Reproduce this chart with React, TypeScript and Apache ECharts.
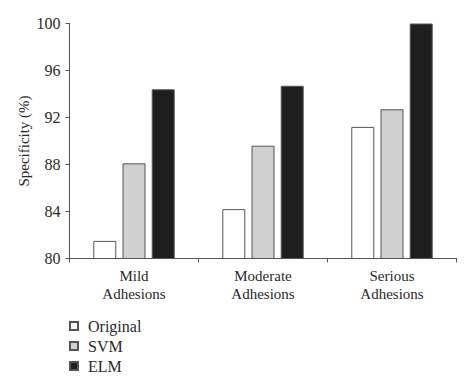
import React, { useEffect, useRef } from "react";
import * as echarts from "echarts";

const categories = ["Mild\nAdhesions", "Moderate\nAdhesions", "Serious\nAdhesions"];
const seriesNames = ["Original", "SVM", "ELM"];
const originalValues = [81.5, 84.2, 91.2];
const svmValues = [88.1, 89.6, 92.7];
const elmValues = [94.4, 94.7, 100];
const yTicks = [80, 84, 88, 92, 96, 100];

const FONT = "'Liberation Serif', 'DejaVu Serif', serif";
const TEXT = "#2a2a2a";
const AXIS = "#555555";

export default function App() {
  const ref = useRef<HTMLDivElement>(null);
  useEffect(() => {
    if (!ref.current) return;
    const chart = echarts.init(ref.current, undefined, { renderer: "svg" });
    const fills = ["#ffffff", "#d0d0d0", "#1e1e1e"];
    const data = [originalValues, svmValues, elmValues];
    chart.setOption({
      animation: false,
      textStyle: { fontFamily: FONT },
      grid: { left: 69.5, right: 17.5, top: 23.5, bottom: 128.5 },
      legend: {
        orient: "vertical",
        left: 64,
        top: 311,
        itemWidth: 8,
        itemHeight: 8,
        itemGap: 0,
        icon: "rect",
        textStyle: {
          fontFamily: FONT,
          fontSize: 16,
          color: TEXT,
          lineHeight: 20,
          padding: [0, 0, 0, 5],
        },
        data: seriesNames,
      },
      xAxis: {
        type: "category",
        data: categories,
        axisLine: { lineStyle: { color: AXIS, width: 1 } },
        axisTick: { show: true, length: 4, inside: false, lineStyle: { color: AXIS } },
        axisLabel: {
          fontFamily: FONT,
          fontSize: 15,
          color: TEXT,
          lineHeight: 18.5,
          margin: 8,
        },
      },
      yAxis: {
        type: "value",
        min: yTicks[0],
        max: yTicks[yTicks.length - 1],
        interval: 4,
        name: "Specificity (%)",
        nameLocation: "middle",
        nameGap: 38,
        nameMoveOverlap: false,
        nameTextStyle: { fontFamily: FONT, fontSize: 15, color: TEXT },
        axisLine: { show: true, lineStyle: { color: AXIS, width: 1 } },
        axisTick: { show: true, length: 4, lineStyle: { color: AXIS } },
        splitLine: { show: false },
        axisLabel: { fontFamily: FONT, fontSize: 16, color: TEXT, margin: 9 },
      },
      series: seriesNames.map((name, i) => ({
        name,
        type: "bar",
        data: data[i],
        barWidth: 23,
        barGap: "27%",
        itemStyle: { color: fills[i], borderColor: AXIS, borderWidth: 1 },
      })),
    });
    return () => chart.dispose();
  }, []);
  return <div ref={ref} style={{ width: 474, height: 387, margin: -8 }} />;
}
